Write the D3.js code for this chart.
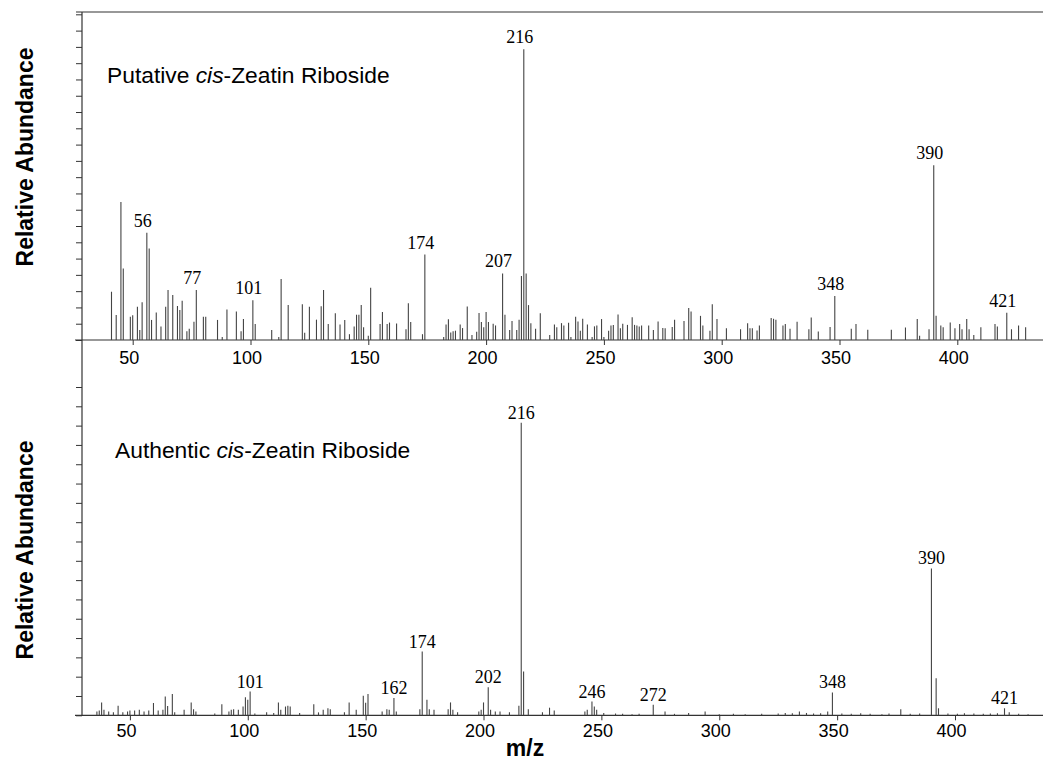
<!DOCTYPE html>
<html>
<head>
<meta charset="utf-8">
<title>cis-Zeatin Riboside mass spectra</title>
<style>
body { margin: 0; background: #fff; }
svg { display: block; }
.axis text { font-family: "Liberation Sans", Arial, sans-serif; font-size: 18px; fill: #000; }
.axis line { stroke: #333; }
.axis .domain { display: none; }
.peak-label { font-family: "Liberation Serif", "Times New Roman", serif; font-size: 18px; fill: #000; text-anchor: middle; }
.title { font-family: "Liberation Sans", Arial, sans-serif; font-size: 22.8px; fill: #000; }
.ylabel, .xlabel { font-family: "Liberation Sans", Arial, sans-serif; font-size: 23px; font-weight: bold; fill: #000; text-anchor: middle; }
</style>
</head>
<body>
<svg id="chart" width="1043" height="763"></svg>
<script src="https://d3js.org/d3.v7.min.js"></script>
<script>

// m/z tick labels shared by both panels
var xTicks = [50, 100, 150, 200, 250, 300, 350, 400];

// putative cis-zeatin riboside (relative abundance, base peak 216 = 100)
var topMz = [41, 43, 45, 46, 49, 50, 52, 53, 54, 56, 57, 58, 60, 62, 64, 65, 67, 69, 70, 71,
  73, 74, 76, 77, 80, 81, 86, 88, 90, 94, 96, 97, 101, 102, 109, 112, 113, 116, 122, 123,
  125, 128, 130, 131, 133, 136, 138, 140, 142, 144, 145, 146, 147, 148, 150, 151, 155, 156, 158, 159,
  162, 166, 167, 168, 173, 174, 182, 183, 184, 185, 186, 187, 189, 190, 192, 194, 196, 197, 198, 199,
  200, 201, 203, 204, 207, 208, 210, 211, 213, 214, 215, 216, 217, 218, 219, 221, 223, 227, 229, 230,
  232, 233, 235, 236, 238, 239, 240, 241, 243, 245, 246, 247, 249, 250, 252, 253, 254, 256, 257, 258,
  260, 262, 263, 264, 265, 266, 269, 271, 273, 275, 276, 279, 280, 284, 286, 287, 291, 292, 295, 296,
  298, 302, 308, 311, 312, 313, 315, 316, 321, 322, 323, 326, 327, 329, 332, 337, 338, 341, 346, 348,
  355, 357, 362, 372, 378, 383, 384, 388, 390, 391, 393, 394, 397, 399, 401, 402, 404, 405, 407, 410,
  416, 417, 421, 423, 426, 429];
var topAbund = [16.6, 8.6, 47.5, 24.6, 8, 8.5, 11.4, 3.4, 13, 36.9, 31.5, 6.9, 9.5, 4.6, 11.4, 17.2, 15.5, 11.7, 10.3, 13.5,
  3, 3.9, 6.3, 17.2, 8, 8, 6.9, 1, 10.5, 9.8, 3, 7.2, 13.7, 5.5, 3.4, 1, 21, 12, 12.3, 2.5,
  11.4, 7, 11.6, 17.2, 5.5, 9.2, 5.3, 6.9, 2, 4.6, 8.7, 8.7, 12, 4.4, 1.5, 18, 5.5, 9.6, 5.5, 6,
  5.7, 3.7, 12.6, 6.2, 2, 29.4, 1, 5.3, 7.1, 2.6, 3, 3.2, 5.3, 4.1, 11.5, 1.7, 2.8, 9.3, 6.2, 4.4,
  9.6, 6.2, 5.6, 5, 22.9, 8.7, 3.4, 6.5, 3.4, 7, 22, 100, 22.9, 12, 5.8, 3.9, 9.2, 1.7, 5.3, 4.4,
  5.8, 5, 5.9, 1, 8, 6.4, 3.2, 7.3, 5.3, 1, 4.7, 5, 7.2, 1, 3.2, 5, 5.2, 8.8, 4, 5.6,
  5.2, 7.8, 5.2, 5, 4.6, 5, 5, 3.4, 6.4, 4.1, 4, 4.5, 7, 6.5, 11, 9.8, 8.3, 5, 3.2, 12.3,
  7.2, 4, 3.7, 5.8, 4, 4, 3.3, 5, 7.6, 7.3, 7, 5, 5.5, 3.9, 6.3, 3.7, 7.7, 2.9, 4.5, 15.1,
  3.9, 5.5, 3.5, 3.5, 4.3, 7.2, 1.5, 3.7, 60.1, 8.3, 5, 4.4, 6, 4, 5.5, 3.7, 7.2, 3.7, 1.7, 4.4,
  5.5, 4.6, 9.4, 3.7, 5, 4.4];
var topLabels = [56, 77, 101, 174, 207, 216, 348, 390, 421];

// authentic cis-zeatin riboside
var botMz = [36, 37, 38, 39, 41, 43, 45, 47, 49, 50, 52, 54, 56, 58, 60, 62, 64, 65, 66, 68,
  69, 73, 76, 77, 78, 86, 89, 92, 93, 94, 96, 98, 99, 100, 101, 103, 108, 111, 113, 114,
  116, 117, 118, 122, 128, 130, 132, 134, 135, 141, 143, 146, 149, 150, 151, 157, 159, 160, 162, 163,
  173, 174, 176, 177, 179, 185, 186, 187, 189, 198, 199, 200, 202, 203, 205, 207, 211, 215, 216, 217,
  219, 225, 228, 230, 243, 244, 246, 247, 248, 251, 256, 259, 263, 266, 272, 277, 281, 287, 294, 300,
  306, 311, 318, 325, 328, 331, 334, 337, 340, 343, 346, 348, 352, 356, 360, 364, 369, 372, 377, 381,
  385, 390, 392, 393, 397, 401, 404, 408, 412, 415, 418, 421, 423, 427, 431];
var botAbund = [1.3, 1.6, 4.4, 1.9, 1.3, 1, 3.3, 1, 1.3, 1.6, 1.6, 1.9, 1.3, 1.6, 4.2, 1.6, 1.9, 6.4, 3.2, 7.3,
  1, 1.9, 4.4, 2.1, 1.3, 0.6, 3.8, 1.3, 1.9, 2.1, 1.9, 3, 6.2, 5.3, 8.1, 0.6, 1, 0.8, 4.4, 1.9,
  3, 3.3, 3, 0.8, 3.8, 1, 1.9, 2.4, 2.1, 1, 4.4, 1.9, 6.7, 4.3, 7.3, 1.3, 2.1, 1.9, 5.9, 1.3,
  2.1, 21.8, 5.3, 2.1, 1.9, 2.1, 4.4, 1.9, 1, 1.3, 1.9, 4.4, 9.6, 1.9, 1.3, 1.3, 1, 3.3, 100, 15,
  2.1, 1, 2.6, 1.6, 1.3, 1.9, 4.7, 3, 1.9, 0.8, 0.6, 0.5, 0.4, 0.5, 3.6, 1.3, 0.5, 0.8, 1.3, 0.4,
  0.5, 0.4, 0.5, 0.6, 0.8, 0.7, 1.3, 0.8, 0.6, 0.7, 1.3, 7.8, 0.6, 0.5, 0.7, 0.5, 0.4, 0.6, 2.1, 0.5,
  0.6, 50.2, 12.7, 2.4, 0.6, 0.5, 0.7, 0.6, 0.5, 0.6, 0.7, 2.4, 1, 0.5, 0.4];
var botLabels = [101, 162, 174, 202, 216, 246, 272, 348, 390, 421];

var svg = d3.select("#chart");

var panels = [
  {mz: topMz, ab: topAbund, labels: topLabels, title: "Putative ",
   x: d3.scaleLinear().domain([50, 400]).range([132.7, 957.3]),
   y: d3.scaleLinear().domain([0, 112.8]).range([340, 12]),
   yTicks: d3.range(21).map(function(i) { return i * 5.6; }),
   pad: 6, labelDx: -4, labelGap: 6, titleX: 107, titleY: 83, ylabelY: 157},
  {mz: botMz, ab: botAbund, labels: botLabels, title: "Authentic ",
   x: d3.scaleLinear().domain([50, 400]).range([129.9, 955]),
   y: d3.scaleLinear().domain([0, 112.2]).range([715.3, 387]),
   yTicks: d3.range(18).map(function(i) { return i * 6.6; }),
   pad: 4, labelDx: 0, labelGap: 4, titleX: 115, titleY: 458, ylabelY: 550}
];

panels.forEach(function(p) {
  var g = svg.append("g");
  var base = p.y(0);

  // y ticks
  g.append("g")
      .attr("class", "axis")
      .attr("transform", "translate(82,0)")
      .call(d3.axisLeft(p.y).tickValues(p.yTicks).tickSize(6).tickFormat(""));

  // baseline
  g.append("line")
      .attr("x1", 75).attr("x2", 1043)
      .attr("y1", base).attr("y2", base)
      .attr("stroke", "#333").attr("stroke-width", 1.2);

  // x axis
  g.append("g")
      .attr("class", "axis")
      .attr("transform", "translate(0," + base + ")")
      .call(d3.axisBottom(p.x).tickValues(xTicks).tickSize(5).tickPadding(p.pad))
    .selectAll("text")
      .attr("dx", -4);

  var data = p.mz.map(function(m, i) { return {mz: m, v: p.ab[i]}; });

  g.append("g").selectAll("line")
    .data(data)
    .enter().append("line")
      .attr("x1", function(d) { return p.x(d.mz); })
      .attr("x2", function(d) { return p.x(d.mz); })
      .attr("y1", base)
      .attr("y2", function(d) { return p.y(d.v); })
      .attr("stroke", "#444")
      .attr("stroke-width", 1.1);

  g.append("g").selectAll("text")
    .data(data.filter(function(d) { return p.labels.indexOf(d.mz) >= 0; }))
    .enter().append("text")
      .attr("class", "peak-label")
      .attr("x", function(d) { return p.x(d.mz) + p.labelDx; })
      .attr("y", function(d) { return p.y(d.v) - p.labelGap; })
      .text(function(d) { return d.mz; });

  var t = g.append("text")
      .attr("class", "title")
      .attr("x", p.titleX)
      .attr("y", p.titleY);
  t.append("tspan").text(p.title);
  t.append("tspan").attr("font-style", "italic").text("cis");
  t.append("tspan").text("-Zeatin Riboside");

  g.append("text")
      .attr("class", "ylabel")
      .attr("transform", "translate(33," + p.ylabelY + ") rotate(-90)")
      .text("Relative Abundance");
});

// left axis line and top frame
svg.append("line")
    .attr("x1", 82).attr("x2", 82).attr("y1", 12).attr("y2", 715.3)
    .attr("stroke", "#333").attr("stroke-width", 1.2);
svg.append("line")
    .attr("x1", 76).attr("x2", 1043).attr("y1", 12).attr("y2", 12)
    .attr("stroke", "#333").attr("stroke-width", 1.2);

svg.append("text")
    .attr("class", "xlabel")
    .attr("x", 525)
    .attr("y", 756)
    .text("m/z");

</script>
</body>
</html>
